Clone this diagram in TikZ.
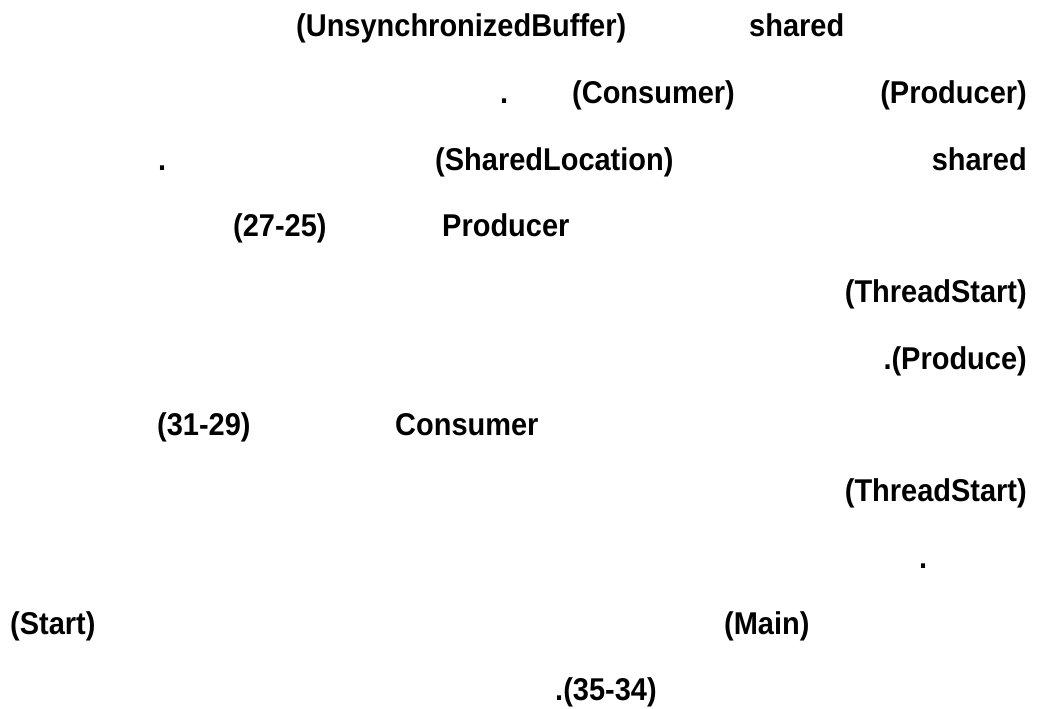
\documentclass[tikz,border=0pt]{standalone}
\usepackage{fontspec}
\setmainfont[FakeStretch=0.92]{Liberation Sans}
\begin{document}
\begin{tikzpicture}[x=1pt,y=-1pt,
  txt/.style={inner sep=0pt, font=\fontsize{31.5}{31.5}\selectfont\bfseries},
  lft/.style={txt, anchor=base west},
  rgt/.style={txt, anchor=base east}]
\useasboundingbox (0,0) rectangle (1039,709);
% line 1
\node[lft] (ub) at (296,37) {(UnsynchronizedBuffer)};
\node[lft] (sh1) at (749,37) {shared};
% line 2
\node[lft] (d2) at (500,103) {.};
\node[lft] (cons1) at (572,103) {(Consumer)};
\node[rgt] (prod1) at (1027,103) {(Producer)};
% line 3
\node[lft] (d3) at (158,170) {.};
\node[lft] (sl) at (435,170) {(SharedLocation)};
\node[rgt] (sh2) at (1027,170) {shared};
% line 4
\node[lft] (r1) at (233,236) {(27-25)};
\node[lft] (prod2) at (442,236) {Producer};
% lines 5-6
\node[rgt] (ts1) at (1027,302) {(ThreadStart)};
\node[rgt] (pr) at (1027,369) {.(Produce)};
% line 7
\node[lft] (r2) at (157,435) {(31-29)};
\node[lft] (cons2) at (395,435) {Consumer};
% lines 8-9
\node[rgt] (ts2) at (1027,501) {(ThreadStart)};
\node[lft] (d9) at (919,568) {.};
% line 10
\node[lft] (st) at (10,634) {(Start)};
\node[lft] (mn) at (724,634) {(Main)};
% line 11
\node[lft] (r3) at (555,700) {.(35-34)};
\end{tikzpicture}
\end{document}
